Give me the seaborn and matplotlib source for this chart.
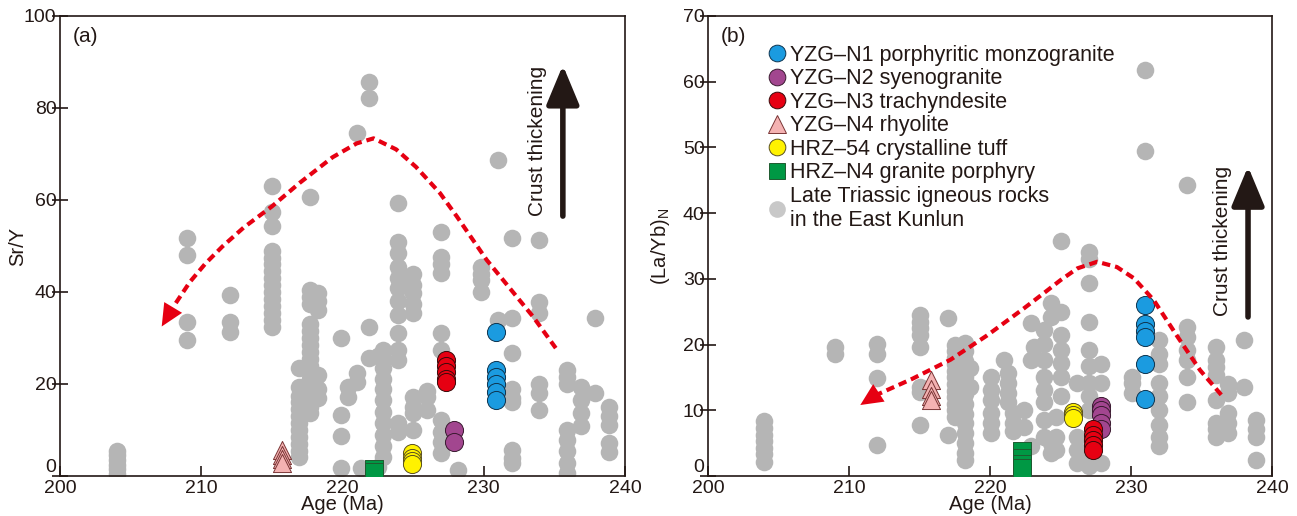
import matplotlib
matplotlib.use("Agg")
import matplotlib.pyplot as plt
import seaborn as sns
import pandas as pd
from matplotlib.lines import Line2D

# ---------------- Panel (a): Sr/Y vs Age ----------------
a_gray_age = ([204.0] * 6 + [209.0] * 4 + [212.0] * 3 + [215.0] * 15 + [216.9] * 12 + [217.7] * 18 +
              [218.3] * 6 + [219.9] * 4 + [220.4] * 2 + [221.0] * 3 + [221.3] + [221.9] * 4 + [222.5] * 2 +
              [222.9] * 11 + [223.9] * 13 + [225.0] * 9 + [226.0] * 3 + [227.0] * 10 + [228.2] +
              [229.8] * 4 + [231.0] * 2 + [232.0] * 9 + [233.9] * 6 + [235.9] * 8 + [236.9] * 4 +
              [237.9] * 2 + [238.9] * 5)
a_gray_val = [0.5, 1.5, 2.5, 3.5, 4.5, 5.5,
              51.7, 48.0, 33.5, 29.6,
              39.3, 33.5, 31.4,
              63.0, 57.4, 54.3, 49.0, 47.5, 46.0, 44.5, 43.0, 41.5, 40.0, 38.5, 37.0, 35.5, 34.0, 32.5,
              23.5, 19.4, 17.5, 16.0, 14.5, 13.0, 11.5, 10.0, 8.5, 7.0, 5.5, 4.2,
              60.7, 40.4, 39.0, 37.5, 33.0, 31.5, 30.0, 28.5, 27.0, 25.5, 24.0, 22.5, 21.0, 19.5, 18.0, 16.5, 15.0, 13.7,
              39.8, 38.0, 36.0, 22.0, 19.0, 17.0,
              30.0, 13.3, 8.6, 1.7,
              19.4, 17.2,
              74.5, 22.4, 20.5,
              1.7,
              85.7, 82.1, 32.5, 25.6,
              26.0, 2.0,
              27.4, 25.5, 23.5, 21.0, 19.0, 16.5, 14.0, 11.5, 9.0, 6.5, 4.2,
              59.3, 50.9, 48.5, 45.5, 43.0, 40.9, 38.0, 35.0, 31.0, 27.4, 25.2, 11.5, 9.6,
              43.9, 41.5, 39.8, 37.5, 35.4, 17.2, 15.0, 13.7, 10.0,
              18.5, 17.2, 14.3,
              53.1, 47.7, 46.0, 44.1, 31.0, 27.4, 12.2, 9.6, 7.4, 5.0,
              1.4,
              45.5, 44.0, 42.6, 40.1,
              68.7, 33.9,
              51.7, 34.3, 26.7, 19.0, 17.0, 16.0, 5.7, 4.0, 2.8,
              51.3, 37.9, 35.4, 20.1, 18.0, 14.3,
              23.0, 21.5, 20.1, 10.0, 7.8, 5.5, 2.8, 0.7,
              19.4, 16.5, 13.6, 10.8,
              34.3, 18.0,
              15.0, 13.0, 11.0, 7.1, 5.3]

a_n1_age, a_n1_val = [230.9] * 6, [31.2, 23.0, 21.5, 20.0, 18.3, 16.5]
a_n2_age, a_n2_val = [227.9] * 2, [10.0, 7.5]
a_n3_age, a_n3_val = [227.3] * 5, [25.2, 24.0, 22.6, 21.0, 20.5]
a_n4_age, a_n4_val = [215.7] * 4, [5.6, 4.6, 3.6, 2.8]
a_h54_age, a_h54_val = [224.9] * 4, [5.0, 4.0, 3.2, 2.6]
a_hn4_age, a_hn4_val = [222.2] * 2, [1.6, 0.9]

a_trend_x = [208.2, 209.2, 210.3, 211.5, 213.0, 215.0, 217.0, 219.3, 221.0, 222.2, 223.8, 225.2, 226.9, 228.1, 230.2, 233.5, 235.1]
a_trend_y = [37.6, 42.2, 46.2, 49.9, 54.0, 58.6, 63.8, 69.3, 72.3, 73.4, 71.0, 67.2, 61.5, 56.4, 47.0, 34.6, 27.8]

# ---------------- Panel (b): (La/Yb)N vs Age ----------------
b_gray_age = ([204.0] * 7 + [209.0] * 2 + [212.0] * 4 + [215.0] * 8 + [217.0] * 2 + [217.5] * 12 +
              [218.2] * 14 + [218.6] * 2 + [220.1] * 6 + [221.0] + [221.3] * 4 + [221.6] * 3 + [222.4] * 2 +
              [222.9] * 3 + [223.1] + [223.8] * 8 + [224.3] * 4 + [224.7] * 3 + [225.0] * 7 + [226.2] * 4 +
              [227.0] * 11 + [227.9] * 3 + [230.1] * 3 + [231.0] * 2 + [232.0] * 9 + [234.0] * 7 +
              [236.0] * 8 + [236.9] * 5 + [238.0] * 2 + [238.9] * 4)
b_gray_val = [8.3, 7.3, 6.3, 5.3, 4.3, 3.3, 2.2,
              19.7, 18.6,
              20.1, 18.6, 14.9, 4.7,
              24.5, 23.5, 22.5, 21.5, 19.7, 13.6, 12.8, 7.8,
              24.0, 6.2,
              20.0, 19.0, 18.0, 17.0, 16.0, 15.0, 14.0, 13.0, 12.0, 11.0, 10.0, 9.0,
              20.3, 19.0, 17.5, 16.5, 15.0, 13.5, 12.5, 11.0, 9.5, 8.0, 6.5, 5.0, 3.5, 2.4,
              16.5, 13.5,
              15.0, 13.1, 11.6, 9.6, 8.0, 6.5,
              17.7,
              15.7, 14.2, 12.6, 11.2,
              9.6, 8.1, 6.8,
              10.0, 7.5,
              23.3, 17.7, 4.5,
              19.7,
              22.2, 20.1, 17.7, 15.1, 13.1, 11.2, 8.5, 6.0,
              26.3, 24.2, 5.0, 3.5,
              9.0, 6.0, 4.0,
              35.7, 25.0, 21.5, 19.2, 17.2, 15.1, 12.1,
              14.1, 6.0, 4.0, 2.0,
              34.1, 33.0, 29.3, 23.5, 19.2, 16.7, 14.1, 12.1, 10.1, 3.0, 1.5,
              17.0, 14.1, 2.0,
              15.0, 14.1, 12.6,
              61.8, 49.4,
              20.7, 18.5, 17.0, 14.1, 12.1, 10.0, 7.7, 6.0, 4.5,
              44.3, 22.7, 21.2, 19.2, 17.7, 15.1, 11.2,
              19.7, 17.7, 16.6, 15.3, 11.6, 8.1, 7.1, 6.0,
              14.0, 12.6, 9.6, 8.1, 6.6,
              20.7, 13.6,
              8.5, 7.1, 6.0, 2.4]

b_n1_age, b_n1_val = [231.0] * 6, [26.0, 23.2, 22.0, 21.2, 17.0, 11.7]
b_n2_age, b_n2_val = [227.9] * 5, [10.6, 10.0, 9.3, 8.0, 7.2]
b_n3_age, b_n3_val = [227.3] * 5, [7.2, 6.3, 5.5, 4.7, 4.0]
b_n4_age, b_n4_val = [215.8] * 4, [14.6, 13.2, 12.2, 11.6]
b_h54_age, b_h54_val = [225.9] * 3, [9.8, 9.3, 8.8]
b_hn4_age, b_hn4_val = [222.3] * 4, [3.8, 2.8, 1.8, 1.2]

b_trend_x = [211.8, 214.5, 217.2, 219.8, 222.4, 223.8, 225.0, 226.2, 227.6, 229.0, 230.2, 231.6, 233.3, 234.9, 236.5]
b_trend_y = [12.2, 14.8, 17.7, 21.4, 25.5, 27.8, 29.8, 31.6, 32.6, 31.8, 30.1, 26.8, 21.2, 16.1, 12.1]

labels = ["YZG\u2013N1 porphyritic monzogranite", "YZG\u2013N2 syenogranite", "YZG\u2013N3 trachyndesite",
          "YZG\u2013N4 rhyolite", "HRZ\u201354 crystalline tuff", "HRZ\u2013N4 granite porphyry",
          "Late Triassic igneous rocks\nin the East Kunlun"]

# ---------------- style ----------------
sns.set_theme(style="white")
plt.rcParams["font.family"] = ["Liberation Sans", "DejaVu Sans"]

C_BLUE, C_PURP, C_RED = "#1b9be0", "#a2468f", "#e60012"
C_PINK, C_YEL, C_GRN, C_GRAY = "#f4b2b2", "#fff200", "#009844", "#b5b5b5"
C_DARK = "#231815"
S = 160

fig = plt.figure(figsize=(12.97, 5.16), dpi=100)
axA = fig.add_axes([60 / 1297, 40 / 516, 565 / 1297, 460 / 516])
axB = fig.add_axes([708 / 1297, 40 / 516, 564 / 1297, 460 / 516])


def draw(ax, gx, gy, groups):
    sns.scatterplot(x=gx, y=gy, ax=ax, color=C_GRAY, s=S, linewidth=0, zorder=2, legend=False)
    for (xs, ys, col, mk, ec) in groups:
        sns.scatterplot(x=xs, y=ys, ax=ax, color=col, marker=mk, s=S + 10, edgecolor=ec,
                        linewidth=0.7, zorder=4, legend=False)


draw(axA, a_gray_age, a_gray_val, [
    (a_hn4_age, a_hn4_val, C_GRN, "s", "#1f5b30"),
    (a_h54_age, a_h54_val, C_YEL, "o", "#5a5020"),
    (a_n4_age, a_n4_val, C_PINK, "^", "#7a3535"),
    (a_n2_age, a_n2_val, C_PURP, "o", "#3a1a30"),
    (a_n3_age, a_n3_val, C_RED, "o", "#3a0a0a"),
    (a_n1_age, a_n1_val, C_BLUE, "o", "#0f3550"),
])
draw(axB, b_gray_age, b_gray_val, [
    (b_hn4_age, b_hn4_val, C_GRN, "s", "#1f5b30"),
    (b_h54_age, b_h54_val, C_YEL, "o", "#5a5020"),
    (b_n4_age, b_n4_val, C_PINK, "^", "#7a3535"),
    (b_n2_age, b_n2_val, C_PURP, "o", "#3a1a30"),
    (b_n3_age, b_n3_val, C_RED, "o", "#3a0a0a"),
    (b_n1_age, b_n1_val, C_BLUE, "o", "#0f3550"),
])

# trend curves with arrow heads
for ax, tx, ty, tip in [(axA, a_trend_x, a_trend_y, (207.2, 32.5)),
                        (axB, b_trend_x, b_trend_y, (210.8, 10.8))]:
    ax.plot(tx, ty, color=C_RED, lw=3.0, dashes=(2.0, 1.2), zorder=5, solid_capstyle="butt")
    ax.annotate("", xy=tip, xytext=(tx[0], ty[0]),
                arrowprops=dict(arrowstyle="-|>,head_length=1.6,head_width=0.75",
                                color=C_RED, lw=0, mutation_scale=10, shrinkA=0, shrinkB=0),
                zorder=6)

# crust thickening arrows
axA.annotate("", xy=(235.6, 89.3), xytext=(235.6, 56.5),
             arrowprops=dict(arrowstyle="-|>,head_length=2.4,head_width=1.0", color=C_DARK,
                             lw=4, mutation_scale=10, shrinkA=0, shrinkB=0))
axA.text(233.8, 72.8, "Crust thickening", rotation=90, ha="center", va="center", fontsize=15, color=C_DARK)
axB.annotate("", xy=(238.3, 47.1), xytext=(238.3, 24.2),
             arrowprops=dict(arrowstyle="-|>,head_length=2.4,head_width=1.0", color=C_DARK,
                             lw=4, mutation_scale=10, shrinkA=0, shrinkB=0))
axB.text(236.5, 35.8, "Crust thickening", rotation=90, ha="center", va="center", fontsize=15, color=C_DARK)

# axes styling
for ax, ylim, yt, ylab, tag, lx in [(axA, (0, 100), [0, 20, 40, 60, 80, 100], "Sr/Y", "(a)", -0.058),
                                   (axB, (0, 70), [0, 10, 20, 30, 40, 50, 60, 70],
                                    r"(La/Yb)$_\mathregular{N}$", "(b)", -0.064)]:
    ax.set_xlim(200, 240)
    ax.set_ylim(*ylim)
    ax.set_xticks([200, 210, 220, 230, 240])
    ax.set_yticks(yt)
    ax.tick_params(axis="x", direction="in", length=7, width=1.2, color=C_DARK, labelsize=14,
                   labelcolor=C_DARK, pad=3, bottom=True)
    ax.tick_params(axis="y", direction="inout", length=11, width=1.2, color=C_DARK, labelsize=14,
                   labelcolor=C_DARK, pad=-3, left=True)
    for sp in ax.spines.values():
        sp.set_color(C_DARK)
        sp.set_linewidth(1.2)
    ax.set_xlabel("Age (Ma)", fontsize=14.5, color=C_DARK, labelpad=-1.5)
    ax.set_ylabel(ylab, fontsize=14.5, color=C_DARK)
    ax.yaxis.set_label_coords(lx, 0.5)
    ax.text(0.022, 0.975, tag, transform=ax.transAxes, ha="left", va="top", fontsize=15, color=C_DARK)
    ax.get_yticklabels()[0].set_va("bottom")

# legend in panel (b)
handles = [
    Line2D([], [], ls="none", marker="o", ms=12, mfc=C_BLUE, mec="#0f3550", mew=0.7),
    Line2D([], [], ls="none", marker="o", ms=12, mfc=C_PURP, mec="#3a1a30", mew=0.7),
    Line2D([], [], ls="none", marker="o", ms=12, mfc=C_RED, mec="#3a0a0a", mew=0.7),
    Line2D([], [], ls="none", marker="^", ms=12.5, mfc=C_PINK, mec="#7a3535", mew=0.7),
    Line2D([], [], ls="none", marker="o", ms=12, mfc=C_YEL, mec="#5a5020", mew=0.7),
    Line2D([], [], ls="none", marker="s", ms=11.5, mfc=C_GRN, mec="#1f5b30", mew=0.7),
    Line2D([], [], ls="none", marker="o", ms=12, mfc="#c8c8c8", mec="none"),
]
axB.legend(handles, labels, loc="upper left", bbox_to_anchor=(0.105, 0.938), frameon=False,
           fontsize=15.5, handlelength=0.9, handletextpad=0.15, labelspacing=0.12,
           borderaxespad=0, borderpad=0, labelcolor=C_DARK)

fig.savefig("out.png", dpi=100)
